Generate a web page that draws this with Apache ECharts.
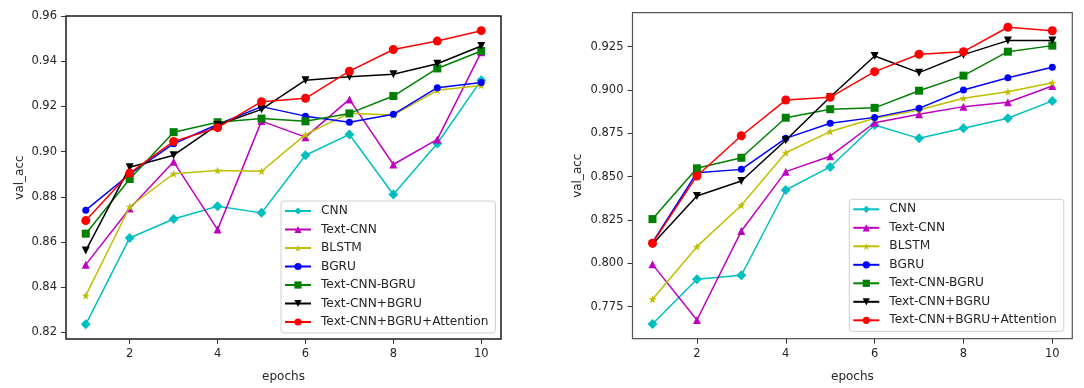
<!DOCTYPE html>
<html>
<head>
<meta charset="utf-8">
<script src="https://cdn.jsdelivr.net/npm/echarts@6/dist/echarts.min.js"></script>
<style>
html,body{margin:0;padding:0;background:#fff;}
#c{width:1084px;height:388px;}
</style>
</head>
<body>
<div id="c"></div>
<script>
// ---- data ----
const epochs = [1, 2, 3, 4, 5, 6, 7, 8, 9, 10];
const seriesNames = ['CNN', 'Text-CNN', 'BLSTM', 'BGRU', 'Text-CNN-BGRU', 'Text-CNN+BGRU', 'Text-CNN+BGRU+Attention'];

// left panel
const cnnA        = [0.8236, 0.8618, 0.8702, 0.8758, 0.8729, 0.8984, 0.9076, 0.8810, 0.9036, 0.9316];
const textCnnA    = [0.8500, 0.8748, 0.8955, 0.8655, 0.9135, 0.9064, 0.9231, 0.8943, 0.9054, 0.9440];
const blstmA      = [0.8363, 0.8756, 0.8902, 0.8916, 0.8913, 0.9075, 0.9170, 0.9162, 0.9271, 0.9293];
const bgruA       = [0.8741, 0.8900, 0.9035, 0.9120, 0.9199, 0.9157, 0.9130, 0.9165, 0.9283, 0.9306];
const cnnBgruA    = [0.8637, 0.8879, 0.9086, 0.9130, 0.9146, 0.9134, 0.9169, 0.9246, 0.9368, 0.9445];
const cnnPlusBgruA= [0.8562, 0.8931, 0.8984, 0.9118, 0.9187, 0.9316, 0.9331, 0.9342, 0.9389, 0.9467];
const attA        = [0.8695, 0.8905, 0.9045, 0.9106, 0.9221, 0.9236, 0.9356, 0.9452, 0.9489, 0.9535];

// right panel
const cnnB        = [0.7650, 0.7908, 0.7931, 0.8423, 0.8556, 0.8798, 0.8721, 0.8779, 0.8837, 0.8937];
const textCnnB    = [0.7994, 0.7673, 0.8186, 0.8529, 0.8618, 0.8811, 0.8860, 0.8904, 0.8929, 0.9023];
const blstmB      = [0.7793, 0.8096, 0.8335, 0.8638, 0.8760, 0.8837, 0.8885, 0.8952, 0.8990, 0.9042];
const bgruB       = [0.8120, 0.8523, 0.8542, 0.8721, 0.8808, 0.8842, 0.8894, 0.9000, 0.9071, 0.9131];
const cnnBgruB    = [0.8255, 0.8548, 0.8609, 0.8840, 0.8889, 0.8897, 0.8996, 0.9083, 0.9221, 0.9256];
const cnnPlusBgruB= [0.8110, 0.8388, 0.8475, 0.8710, 0.8960, 0.9196, 0.9100, 0.9204, 0.9285, 0.9285];
const attB        = [0.8116, 0.8504, 0.8736, 0.8942, 0.8958, 0.9106, 0.9206, 0.9221, 0.9362, 0.9342];

// ticks
const xTicks = [2, 4, 6, 8, 10];
const leftYTicks = [0.82, 0.84, 0.86, 0.88, 0.90, 0.92, 0.94, 0.96];
const rightYTicks = [0.775, 0.800, 0.825, 0.850, 0.875, 0.900, 0.925];
const xRange = [0.55, 10.45];
const leftYRange = [0.8171, 0.9600];
const rightYRange = [0.7565, 0.9446];

// ---- styles ----
const FONT = 'DejaVu Sans';
const TXT = '#262626';
const STAR = 'path://M0,-10 L2.35,-3.24 L9.51,-3.09 L3.8,1.24 L5.88,8.09 L0,4 L-5.88,8.09 L-3.8,1.24 L-9.51,-3.09 L-2.35,-3.24 Z';
const styles = [
  {color: '#00bfbf', symbol: 'diamond', size: 10, rotate: 0},
  {color: '#bf00bf', symbol: 'triangle', size: 8, rotate: 0},
  {color: '#bfbf00', symbol: STAR, size: 8, rotate: 0},
  {color: '#0000ff', symbol: 'circle', size: 7, rotate: 0},
  {color: '#008000', symbol: 'rect', size: 8, rotate: 0},
  {color: '#000000', symbol: 'triangle', size: 8, rotate: 180},
  {color: '#ff0000', symbol: 'circle', size: 9, rotate: 0}
];
const leftData = [cnnA, textCnnA, blstmA, bgruA, cnnBgruA, cnnPlusBgruA, attA];
const rightData = [cnnB, textCnnB, blstmB, bgruB, cnnBgruB, cnnPlusBgruB, attB];

function mkSeries(arr, idx) {
  return arr.map((vals, i) => ({
    type: 'line',
    name: seriesNames[i],
    xAxisIndex: idx, yAxisIndex: idx,
    data: epochs.map((e, k) => [e, vals[k]]),
    symbol: styles[i].symbol,
    symbolSize: styles[i].size,
    symbolRotate: styles[i].rotate,
    showAllSymbol: true,
    animation: false,
    lineStyle: {color: styles[i].color, width: 1.5},
    itemStyle: {color: styles[i].color, borderWidth: 0},
    emphasis: {disabled: true},
    z: 2 + i
  }));
}

function mkX(idx) {
  return {
    type: 'value', gridIndex: idx, min: xRange[0], max: xRange[1],
    name: 'epochs', nameLocation: 'middle', nameGap: 32,
    nameTextStyle: {fontFamily: FONT, fontSize: 12, color: TXT},
    axisLine: {show: false},
    splitLine: {show: false},
    axisTick: {show: true, length: 5, customValues: xTicks, lineStyle: {color: '#333', width: 1}},
    axisLabel: {customValues: xTicks, fontFamily: FONT, fontSize: 11.5, color: TXT, margin: 9}
  };
}
function mkY(idx, range, ticks, dec, gap) {
  return {
    type: 'value', gridIndex: idx, min: range[0], max: range[1],
    name: 'val_acc', nameLocation: 'middle', nameGap: gap, nameRotate: 90,
    nameTextStyle: {fontFamily: FONT, fontSize: 12, color: TXT},
    axisLine: {show: false},
    splitLine: {show: false},
    axisTick: {show: true, length: 5, customValues: ticks, lineStyle: {color: '#333', width: 1}},
    axisLabel: {customValues: ticks, fontFamily: FONT, fontSize: 11.5, color: TXT, margin: 9,
      formatter: v => v.toFixed(dec)}
  };
}
function mkLegend(idx, left, top) {
  return {
    data: seriesNames.map(n => ({name: n})),
    orient: 'vertical', left: left, top: top,
    itemWidth: 26, itemHeight: 9, itemGap: 6.5,
    padding: [4, 7, 5, 3],
    backgroundColor: 'rgba(255,255,255,0.85)',
    borderColor: '#d0d0d0', borderWidth: 1, borderRadius: 3,
    textStyle: {fontFamily: FONT, fontSize: 12.2, color: TXT, padding: [0, 0, 0, 5], lineHeight: 12},
    selectedMode: false,
    inactiveColor: '#ccc'
  };
}

const chart = echarts.init(document.getElementById('c'), null, {renderer: 'canvas'});
chart.setOption({
  backgroundColor: '#ffffff',
  animation: false,
  grid: [
    {left: 66, top: 16, width: 435, height: 323, show: true, borderColor: '#1a1a1a', borderWidth: 1.5, backgroundColor: 'transparent'},
    {left: 632.5, top: 12.7, width: 439.8, height: 326, show: true, borderColor: '#555', borderWidth: 1.2, backgroundColor: 'transparent'}
  ],
  xAxis: [mkX(0), mkX(1)],
  yAxis: [mkY(0, leftYRange, leftYTicks, 2, 40), mkY(1, rightYRange, rightYTicks, 3, 49)],
  legend: [mkLegend(0, 281, 201), mkLegend(1, 849.3, 199.3)],
  series: mkSeries(leftData, 0).concat(mkSeries(rightData, 1))
});
</script>
</body>
</html>
